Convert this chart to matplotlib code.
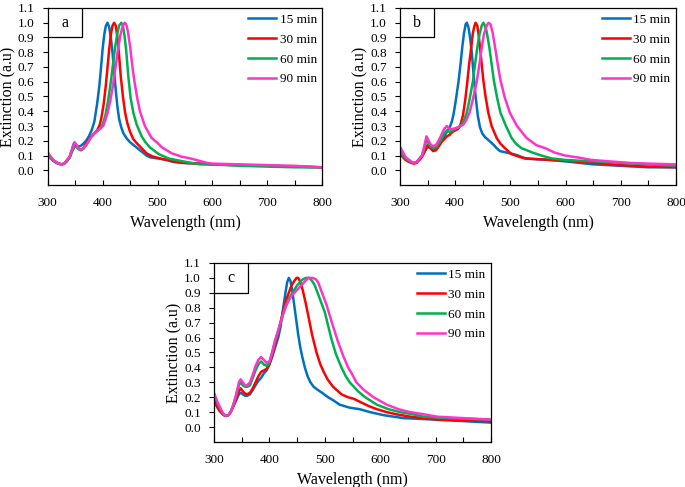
import matplotlib
matplotlib.use("Agg")
import matplotlib.pyplot as plt
from matplotlib.patches import Rectangle
from matplotlib.ticker import MultipleLocator, FixedLocator

plt.rcParams['font.family'] = ['Liberation Serif', 'DejaVu Serif']

labels = ["15 min", "30 min", "60 min", "90 min"]
colors = ["#0070C0", "#FF0000", "#00B050", "#FF33CC"]
xticks = [300, 400, 500, 600, 700, 800]
yticks = [0.0, 0.1, 0.2, 0.3, 0.4, 0.5, 0.6, 0.7, 0.8, 0.9, 1.0, 1.1]

# ---------------- panel a ----------------
a15_wl = [300,305,310,315,320,325,330,335,340,345,348,352,356,360,365,370,375,380,385,390,394,397,400,403,406,409,412,415,418,421,424,427,430,434,438,444,450,455,460,465,470,475,480,486,500,510,520,530,550,575,600,650,700,750,800]
a15_v = [0.12,0.09,0.07,0.05,0.045,0.04,0.045,0.06,0.09,0.15,0.185,0.17,0.16,0.165,0.18,0.2,0.23,0.27,0.33,0.45,0.57,0.69,0.82,0.92,0.98,1.0,0.97,0.9,0.8,0.67,0.54,0.43,0.35,0.29,0.25,0.215,0.19,0.175,0.16,0.145,0.13,0.115,0.1,0.088,0.08,0.075,0.065,0.055,0.05,0.045,0.04,0.035,0.03,0.025,0.02]
a30_wl = [300,310,320,325,330,340,345,349,353,357,361,365,370,375,380,385,390,395,398,402,406,409,412,415,418,421,424,427,430,433,437,441,445,450,456,463,471,480,490,500,510,520,530,545,575,600,650,700,750,800]
a30_v = [0.1,0.065,0.045,0.04,0.045,0.09,0.14,0.17,0.16,0.145,0.14,0.15,0.18,0.21,0.23,0.25,0.27,0.31,0.36,0.45,0.58,0.7,0.82,0.92,0.98,1.0,0.98,0.9,0.78,0.64,0.5,0.39,0.32,0.26,0.21,0.18,0.15,0.115,0.095,0.085,0.075,0.07,0.06,0.05,0.045,0.04,0.035,0.03,0.025,0.02]
a60_wl = [300,310,320,325,330,340,345,349,353,357,361,365,370,375,380,385,390,395,400,405,410,415,419,423,427,430,434,437,440,443,447,451,456,462,471,478,486,495,502,520,547,577,600,650,700,750,800]
a60_v = [0.1,0.065,0.045,0.04,0.045,0.085,0.13,0.16,0.155,0.14,0.135,0.145,0.17,0.2,0.23,0.25,0.265,0.28,0.31,0.37,0.47,0.6,0.72,0.84,0.93,0.98,1.0,0.98,0.91,0.81,0.63,0.49,0.39,0.31,0.23,0.19,0.155,0.13,0.11,0.08,0.06,0.04,0.04,0.03,0.025,0.02,0.02]
a90_wl = [300,310,320,325,330,340,345,349,353,357,361,365,370,375,380,385,390,395,401,405,409,414,419,424,428,432,436,440,443,446,450,454,458,463,468,477,489,500,508,526,544,560,575,590,600,650,700,750,800]
a90_v = [0.12,0.07,0.045,0.04,0.045,0.09,0.15,0.19,0.17,0.145,0.14,0.15,0.17,0.2,0.23,0.25,0.265,0.28,0.3,0.34,0.39,0.47,0.58,0.71,0.82,0.91,0.97,1.0,0.99,0.94,0.84,0.71,0.6,0.49,0.4,0.3,0.22,0.185,0.155,0.115,0.092,0.08,0.065,0.05,0.045,0.04,0.035,0.03,0.02]

# ---------------- panel b ----------------
b15_wl = [300,305,310,315,320,325,330,335,340,345,350,355,360,365,370,375,380,385,390,394,397,401,406,410,413,416,419,421,424,427,430,434,437,441,445,449,454,460,469,475,481,493,505,514,526,545,570,600,650,700,750,800]
b15_v = [0.15,0.11,0.08,0.06,0.055,0.05,0.055,0.07,0.1,0.13,0.16,0.15,0.14,0.15,0.17,0.2,0.23,0.26,0.29,0.33,0.38,0.47,0.6,0.73,0.84,0.93,0.99,1.0,0.97,0.9,0.8,0.62,0.5,0.37,0.29,0.25,0.225,0.205,0.175,0.15,0.13,0.12,0.11,0.1,0.08,0.075,0.07,0.06,0.04,0.03,0.02,0.02]
b30_wl = [300,310,320,325,330,340,345,350,355,360,365,370,375,380,385,390,395,400,405,409,414,418,422,425,429,432,435,437,440,442,445,448,451,455,460,466,475,482,490,502,517,529,550,575,600,650,700,750,800]
b30_v = [0.11,0.07,0.05,0.045,0.05,0.09,0.13,0.17,0.15,0.13,0.135,0.16,0.19,0.21,0.23,0.24,0.26,0.27,0.28,0.3,0.37,0.47,0.6,0.71,0.83,0.93,0.98,1.0,0.98,0.93,0.83,0.72,0.61,0.5,0.39,0.3,0.22,0.18,0.15,0.11,0.09,0.08,0.075,0.07,0.065,0.05,0.035,0.025,0.02]
b60_wl = [300,310,320,325,330,340,345,348,352,356,360,365,370,375,380,385,390,395,400,405,412,416,421,426,432,436,440,444,448,451,454,457,462,466,470,476,482,492,502,510,520,540,556,575,600,650,700,750,800]
b60_v = [0.13,0.08,0.055,0.05,0.055,0.1,0.16,0.21,0.18,0.16,0.15,0.155,0.18,0.21,0.25,0.27,0.26,0.27,0.28,0.29,0.31,0.34,0.39,0.48,0.6,0.72,0.83,0.92,0.98,1.0,0.98,0.94,0.83,0.72,0.61,0.49,0.39,0.3,0.22,0.18,0.15,0.12,0.1,0.08,0.07,0.06,0.05,0.04,0.03]
b90_wl = [300,310,320,325,330,340,345,348,352,356,360,365,370,375,380,385,390,395,400,405,410,415,420,426,432,439,444,448,452,456,460,464,468,472,477,482,490,499,512,529,547,563,580,599,625,647,680,715,750,800]
b90_v = [0.16,0.09,0.06,0.05,0.055,0.1,0.18,0.23,0.2,0.17,0.165,0.17,0.2,0.24,0.28,0.3,0.28,0.28,0.285,0.29,0.3,0.31,0.34,0.39,0.48,0.6,0.72,0.83,0.92,0.97,1.0,0.99,0.93,0.84,0.72,0.61,0.49,0.39,0.3,0.22,0.17,0.15,0.12,0.1,0.085,0.07,0.06,0.05,0.045,0.04]

# ---------------- panel c ----------------
c15_wl = [300,305,310,315,318,322,326,330,335,340,345,348,352,356,360,365,370,375,380,385,390,395,400,405,410,416,420,425,429,432,435,438,441,444,448,452,456,460,464,469,474,480,487,495,506,515,527,545,563,582,606,642,700,750,800]
c15_v = [0.18,0.14,0.11,0.09,0.08,0.075,0.08,0.1,0.14,0.18,0.22,0.23,0.22,0.21,0.21,0.22,0.25,0.28,0.31,0.33,0.36,0.38,0.42,0.47,0.53,0.6,0.67,0.8,0.9,0.97,1.0,0.98,0.92,0.84,0.73,0.62,0.53,0.46,0.4,0.34,0.3,0.27,0.25,0.23,0.2,0.18,0.15,0.13,0.12,0.1,0.08,0.06,0.05,0.04,0.03]
c30_wl = [300,305,310,315,318,322,326,330,335,340,345,348,352,356,360,365,370,375,380,385,390,395,400,405,410,415,420,425,430,435,440,445,449,452,455,460,465,470,477,485,492,498,505,515,530,542,552,563,580,594,612,630,654,680,702,750,800]
c30_v = [0.18,0.14,0.11,0.09,0.08,0.075,0.08,0.1,0.14,0.19,0.24,0.26,0.24,0.225,0.22,0.23,0.26,0.3,0.34,0.37,0.38,0.39,0.42,0.48,0.55,0.62,0.7,0.78,0.85,0.9,0.95,0.98,1.0,1.0,0.98,0.92,0.84,0.75,0.62,0.5,0.42,0.37,0.32,0.27,0.22,0.2,0.19,0.17,0.14,0.12,0.1,0.085,0.07,0.06,0.05,0.045,0.04]
c60_wl = [300,305,310,315,318,322,326,330,335,340,345,348,352,356,360,365,370,375,380,385,390,395,400,405,410,415,420,425,430,435,440,445,450,455,460,466,472,477,482,487,492,500,506,512,520,530,538,545,560,573,594,615,636,660,678,720,760,800]
c60_v = [0.22,0.17,0.13,0.1,0.085,0.075,0.08,0.1,0.15,0.21,0.28,0.3,0.28,0.27,0.27,0.28,0.33,0.38,0.42,0.44,0.42,0.41,0.43,0.5,0.57,0.63,0.7,0.76,0.82,0.86,0.89,0.92,0.95,0.97,0.99,1.0,1.0,0.98,0.95,0.9,0.85,0.77,0.68,0.59,0.49,0.4,0.34,0.3,0.24,0.2,0.15,0.12,0.1,0.085,0.07,0.06,0.055,0.05]
c90_wl = [300,305,310,315,318,322,326,330,335,340,345,348,352,356,360,365,370,375,380,385,390,395,400,405,410,415,420,425,430,435,440,445,450,455,460,465,470,478,484,488,492,497,503,508,512,518,524,533,542,550,557,570,588,612,633,654,680,702,750,800]
c90_v = [0.23,0.18,0.14,0.1,0.085,0.075,0.08,0.1,0.15,0.22,0.3,0.32,0.3,0.28,0.28,0.3,0.35,0.41,0.45,0.47,0.45,0.43,0.44,0.5,0.58,0.64,0.7,0.76,0.81,0.85,0.88,0.9,0.92,0.94,0.96,0.98,1.0,1.0,0.99,0.97,0.93,0.88,0.82,0.76,0.71,0.64,0.57,0.48,0.4,0.35,0.3,0.25,0.2,0.15,0.12,0.1,0.085,0.07,0.06,0.05]

panels = [
    ("a", [0.0696, 0.6201, 0.4009, 0.3635], [(a15_wl, a15_v), (a30_wl, a30_v), (a60_wl, a60_v), (a90_wl, a90_v)]),
    ("b", [0.5839, 0.6201, 0.4030, 0.3635], [(b15_wl, b15_v), (b30_wl, b30_v), (b60_wl, b60_v), (b90_wl, b90_v)]),
    ("c", [0.3124, 0.0924, 0.4044, 0.3676], [(c15_wl, c15_v), (c30_wl, c30_v), (c60_wl, c60_v), (c90_wl, c90_v)]),
]

fig = plt.figure(figsize=(6.85, 4.87), dpi=100)
for letter, rect, series in panels:
    ax = fig.add_axes(rect)
    for (wl, v), lab, col in zip(series, labels, colors):
        ax.plot(wl, v, color=col, lw=1.8, label=lab)
    ax.set_xlim(300, 800)
    ax.set_ylim(-0.1, 1.1)
    ax.xaxis.set_major_locator(FixedLocator(xticks))
    ax.xaxis.set_minor_locator(MultipleLocator(50))
    ax.yaxis.set_major_locator(FixedLocator(yticks))
    ax.set_yticklabels([f"{t:.1f}" for t in yticks])
    ax.tick_params(axis='x', which='both', direction='in', length=3.5, width=0.8, labelsize=9.5, pad=8.5)
    ax.tick_params(axis='y', which='both', direction='out', length=3.5, width=0.8, labelsize=9.5, pad=6)
    for s in ax.spines.values():
        s.set_linewidth(0.9)
    ax.set_xlabel("Wavelength (nm)", fontsize=11.5, labelpad=4.5)
    ax.set_ylabel("Extinction (a.u)", fontsize=11.5, labelpad=1)
    ax.add_patch(Rectangle((0, 0.835), 0.124, 0.165, transform=ax.transAxes,
                           facecolor='white', edgecolor='black', lw=0.9, zorder=5))
    ax.text(0.062, 0.9175, letter, transform=ax.transAxes, ha='center', va='center',
            fontsize=11.5, zorder=6)
    ax.legend(loc='upper right', bbox_to_anchor=(1.0, 1.0), frameon=False,
              fontsize=9.5, handlelength=2.1, handletextpad=0.25, labelspacing=0.58,
              borderpad=0.42, borderaxespad=0.0)

fig.savefig("out.png", dpi=100)
